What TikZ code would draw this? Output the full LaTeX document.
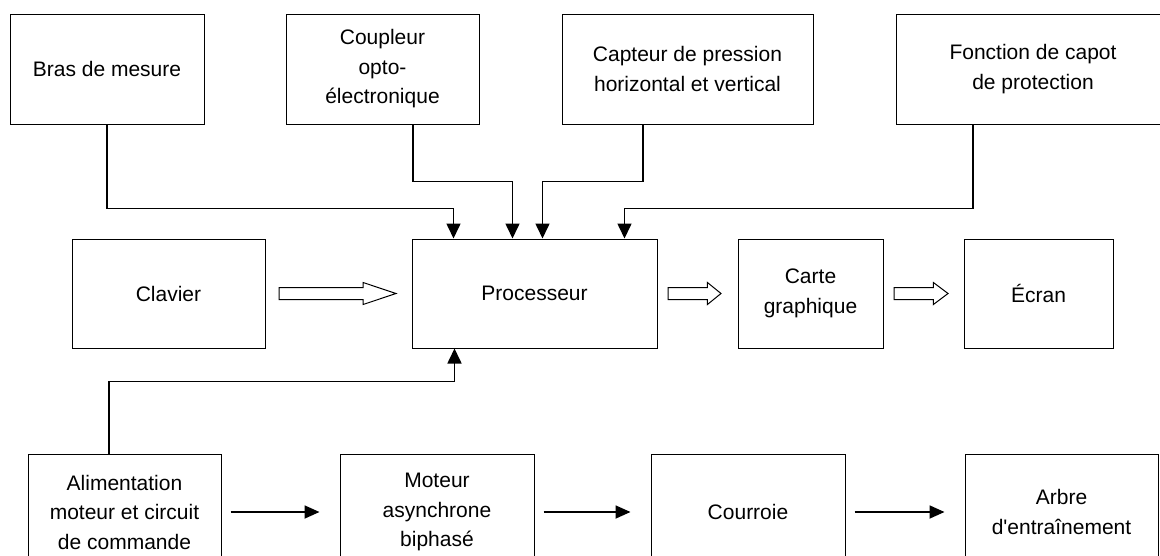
\documentclass[tikz,border=0pt]{standalone}
\usepackage{fontspec}
\setmainfont{Liberation Sans}
\usetikzlibrary{arrows.meta, shapes.arrows, positioning}

\begin{document}
\begin{tikzpicture}[
    x=1pt, y=-1pt,
    % Blocs du schéma
    bloc/.style={
            rectangle,
            draw=black,
            line width=1pt,
            minimum height=110pt,
            inner sep=0pt,
            align=center,
            font=\fontsize{21}{29.5}\selectfont
        },
    % Liaisons vers le processeur
    link/.style={
    -{Triangle[length=15pt,width=14pt]},
    line width=1.6pt
    },
    % Chaîne de transmission
    flow/.style={
    -{Triangle[length=15pt,width=13pt]},
    line width=1.8pt,
    shorten <=9pt,
    shorten >=20pt
    },
    % Flèches creuses
    hollow/.style={
            single arrow,
            draw=black,
            line width=1pt,
            inner sep=5.5pt,
            minimum width=0pt,
            single arrow head extend=5pt,
            anchor=tail
        }
    ]

    \useasboundingbox (0,0) rectangle (1160,555);
    \fill[white] (0,0) rectangle (1160,555);
    \clip (0,0) rectangle (1160,555);

    % ========== CAPTEURS (haut) ==========
    \node[bloc, minimum width=194pt] (bras) at (107,69) {Bras de mesure};
    \node[bloc, minimum width=193pt] (coupleur) at (382.5,69) {Coupleur\\opto-\\électronique};
    \node[bloc, minimum width=251pt] (capteur) at (687.5,69) {Capteur de pression\\horizontal et vertical};
    \node[bloc, minimum width=274pt] (capot) at (1033,69) {Fonction de capot\\de protection};

    % ========== TRAITEMENT (milieu) ==========
    \node[bloc, minimum width=193pt, minimum height=109pt] (clavier) at (168.5,293.5) {Clavier};
    \node[bloc, minimum width=245pt, minimum height=109pt] (proc) at (534.5,293.5) {Processeur};
    \node[bloc, minimum width=145pt, minimum height=109pt] (carte) at (810.5,293.5) {Carte\\graphique};
    \node[bloc, minimum width=149pt, minimum height=109pt] (ecran) at (1038.5,293.5) {Écran};

    % ========== MOTORISATION (bas) ==========
    \node[bloc, minimum width=193pt, minimum height=116pt] (alim) at (124.5,512) {Alimentation\\moteur et circuit\\de commande};
    \node[bloc, minimum width=194pt, minimum height=116pt] (moteur) at (437,512) {Moteur\\asynchrone\\biphasé};
    \node[bloc, minimum width=194pt, minimum height=116pt] (courroie) at (748,512) {Courroie};
    \node[bloc, minimum width=193pt, minimum height=116pt] (arbre) at (1061.5,512) {Arbre\\d\textquotesingle entraînement};

    % Flèches creuses
    \node[hollow, right=13pt of clavier, anchor=tail, minimum height=117pt, single arrow tip angle=37] (clav2proc) {};
    \node[hollow, right=10pt of proc, anchor=tail, minimum height=53pt, single arrow tip angle=78] (proc2carte) {};
    \node[hollow, right=10pt of carte, anchor=tail, minimum height=54pt, single arrow tip angle=74] (carte2ecran) {};

    % ========== FLECHES ==========
    \draw[link] (bras.south) -- ++(0,84) -| ([xshift=42pt]proc.north west);
    \draw[link] ([xshift=30.5pt]coupleur.south) -- ++(0,57) -| ([xshift=101pt]proc.north west);
    \draw[link] ([xshift=-44.5pt]capteur.south) -- ++(0,57) -| ([xshift=131pt]proc.north west);
    \draw[link] ([xshift=-60pt]capot.south) -- ++(0,84) -| ([xshift=213pt]proc.north west);
    \draw[link] ([xshift=-15.5pt]alim.north) -- ++(0,-72) -| ([xshift=43pt]proc.south west);

    % Chaîne moteur
    \draw[flow] (alim) -- (moteur);
    \draw[flow] (moteur) -- (courroie);
    \draw[flow] (courroie) -- (arbre);

\end{tikzpicture}
\end{document}
